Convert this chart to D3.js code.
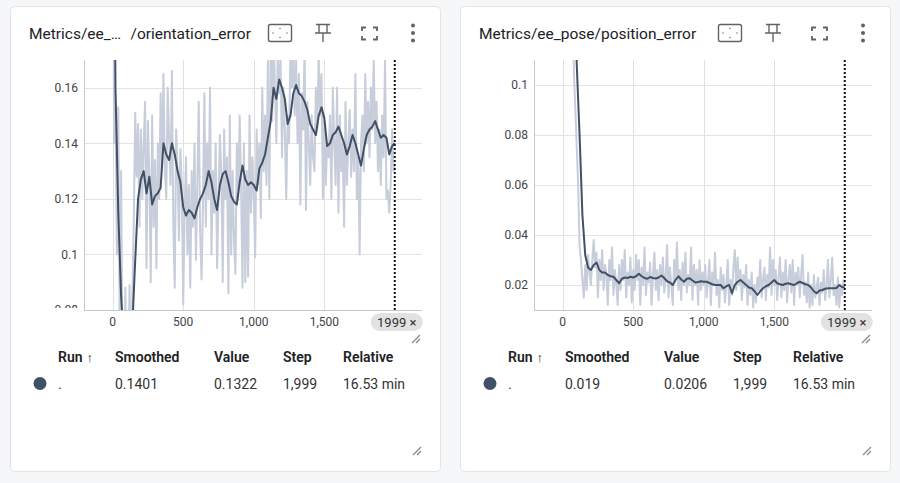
<!DOCTYPE html>
<html>
<head>
<meta charset="utf-8">
<script src="https://cdn.jsdelivr.net/npm/d3@7"></script>
<style>
  body { margin: 0; background: #f6f7f9; font-family: Roboto, "Noto Sans", sans-serif; }
  svg { display: block; }
</style>
</head>
<body>
<div id="board"></div>
<script>
// values (raw every 10 steps, smoothed every 20 steps, plus last step 1999)
var orientRaw = [
  0.30, 0.14, 0.155, 0.10, 0.153, 0.07, 0.13, 0.06, 0.05, 0.088,
  0.04, 0.06, 0.089, 0.05, 0.085, 0.113, 0.151, 0.128, 0.147, 0.11,
  0.145, 0.12, 0.14, 0.155, 0.095, 0.148, 0.128, 0.09, 0.15, 0.11,
  0.134, 0.095, 0.14, 0.12, 0.158, 0.132, 0.165, 0.13, 0.12, 0.16,
  0.142, 0.125, 0.166, 0.11, 0.088, 0.145, 0.13, 0.105, 0.138, 0.125,
  0.082, 0.115, 0.135, 0.10, 0.125, 0.088, 0.13, 0.11, 0.14, 0.098,
  0.125, 0.155, 0.108, 0.091, 0.118, 0.158, 0.11, 0.14, 0.12, 0.16,
  0.10, 0.13, 0.115, 0.14, 0.095, 0.12, 0.143, 0.13, 0.09, 0.145,
  0.12, 0.135, 0.086, 0.15, 0.10, 0.13, 0.105, 0.093, 0.14, 0.12,
  0.15, 0.125, 0.088, 0.14, 0.090, 0.13, 0.092, 0.15, 0.115, 0.135,
  0.12, 0.099, 0.145, 0.125, 0.14, 0.113, 0.16, 0.13, 0.15, 0.125,
  0.17, 0.12, 0.175, 0.148, 0.18, 0.16, 0.14, 0.175, 0.158, 0.17,
  0.135, 0.16, 0.145, 0.12, 0.15, 0.14, 0.175, 0.16, 0.178, 0.15,
  0.17, 0.14, 0.165, 0.118, 0.158, 0.145, 0.175, 0.116, 0.155, 0.14,
  0.125, 0.15, 0.135, 0.13, 0.16, 0.145, 0.172, 0.15, 0.165, 0.12,
  0.148, 0.125, 0.14, 0.135, 0.15, 0.12, 0.16, 0.14, 0.125, 0.16,
  0.115, 0.15, 0.13, 0.14, 0.11, 0.155, 0.125, 0.14, 0.152, 0.128,
  0.145, 0.13, 0.165, 0.12, 0.135, 0.10, 0.14, 0.15, 0.13, 0.165,
  0.14, 0.155, 0.135, 0.16, 0.145, 0.17, 0.14, 0.155, 0.13, 0.145,
  0.125, 0.15, 0.135, 0.17, 0.12, 0.123, 0.115, 0.125, 0.145, 0.13,
  0.1322
];
var orientSmooth = [
  0.30, 0.16, 0.115, 0.085, 0.068, 0.06, 0.062, 0.075, 0.098, 0.12,
  0.127, 0.130, 0.122, 0.128, 0.118, 0.121, 0.122, 0.124, 0.140, 0.136,
  0.134, 0.140, 0.136, 0.130, 0.126, 0.117, 0.114, 0.116, 0.115, 0.113,
  0.117, 0.120, 0.122, 0.125, 0.130, 0.126, 0.120, 0.116, 0.125, 0.129,
  0.130, 0.126, 0.121, 0.119, 0.118, 0.126, 0.132, 0.127, 0.125, 0.126,
  0.125, 0.123, 0.131, 0.133, 0.136, 0.142, 0.148, 0.160, 0.156, 0.163,
  0.160, 0.156, 0.147, 0.150, 0.158, 0.161, 0.158, 0.157, 0.155, 0.152,
  0.147, 0.145, 0.143, 0.150, 0.153, 0.149, 0.139, 0.140, 0.143, 0.144,
  0.146, 0.143, 0.140, 0.136, 0.139, 0.143, 0.140, 0.136, 0.132, 0.138,
  0.143, 0.145, 0.146, 0.148, 0.145, 0.142, 0.143, 0.142, 0.136, 0.139,
  0.1401
];
var positionRaw = [
  0.35, 0.30, 0.28, 0.25, 0.22, 0.19, 0.16, 0.13, 0.105, 0.09,
  0.075, 0.06, 0.035, 0.03, 0.022, 0.015, 0.028, 0.018, 0.032, 0.025,
  0.02, 0.03, 0.038, 0.027, 0.033, 0.015, 0.03, 0.022, 0.034, 0.018,
  0.028, 0.024, 0.012, 0.03, 0.022, 0.035, 0.016, 0.026, 0.02, 0.012,
  0.028, 0.018, 0.03, 0.022, 0.034, 0.015, 0.025, 0.02, 0.031, 0.013,
  0.026, 0.018, 0.032, 0.022, 0.03, 0.012, 0.027, 0.02, 0.035, 0.016,
  0.025, 0.021, 0.029, 0.012, 0.024, 0.033, 0.018, 0.026, 0.014, 0.028,
  0.02, 0.031, 0.017, 0.024, 0.036, 0.015, 0.027, 0.02, 0.012, 0.03,
  0.022, 0.037, 0.018, 0.026, 0.014, 0.029, 0.02, 0.033, 0.017, 0.024,
  0.02, 0.035, 0.014, 0.028, 0.02, 0.026, 0.012, 0.03, 0.018, 0.025,
  0.02, 0.028, 0.015, 0.022, 0.03, 0.012, 0.025, 0.02, 0.033, 0.016,
  0.022, 0.011, 0.027, 0.018, 0.024, 0.013, 0.02, 0.03, 0.012, 0.022,
  0.016, 0.027, 0.034, 0.018, 0.031, 0.02, 0.026, 0.014, 0.024, 0.019,
  0.028, 0.012, 0.022, 0.016, 0.025, 0.011, 0.02, 0.013, 0.023, 0.018,
  0.03, 0.015, 0.022, 0.027, 0.014, 0.024, 0.019, 0.035, 0.016, 0.03,
  0.02, 0.026, 0.014, 0.023, 0.031, 0.015, 0.025, 0.018, 0.03, 0.013,
  0.022, 0.028, 0.017, 0.03, 0.012, 0.025, 0.02, 0.027, 0.015, 0.024,
  0.032, 0.016, 0.021, 0.013, 0.025, 0.011, 0.02, 0.012, 0.024, 0.015,
  0.019, 0.023, 0.012, 0.021, 0.017, 0.026, 0.014, 0.02, 0.03, 0.015,
  0.022, 0.031, 0.016, 0.02, 0.012, 0.023, 0.011, 0.02, 0.016, 0.022,
  0.0206
];
var positionSmooth = [
  0.35, 0.30, 0.26, 0.22, 0.15, 0.108, 0.08, 0.048, 0.032, 0.027,
  0.026, 0.028, 0.029, 0.026, 0.025, 0.025, 0.024, 0.0235, 0.0233, 0.022,
  0.0207, 0.0225, 0.023, 0.0228, 0.0233, 0.023, 0.0235, 0.0245, 0.0235, 0.0228,
  0.0225, 0.0232, 0.0228, 0.0226, 0.023, 0.0238, 0.0228, 0.0215, 0.021, 0.020,
  0.022, 0.0235, 0.0222, 0.0213, 0.0225, 0.0227, 0.0218, 0.021, 0.0212, 0.0215,
  0.0213, 0.0213, 0.0208, 0.0203, 0.020, 0.020, 0.020, 0.0187, 0.0195, 0.020,
  0.0167, 0.020, 0.0213, 0.022, 0.021, 0.020, 0.019, 0.0187, 0.0175, 0.016,
  0.0175, 0.0187, 0.0195, 0.020, 0.021, 0.022, 0.0207, 0.0203, 0.020, 0.0205,
  0.0207, 0.0203, 0.020, 0.0207, 0.0213, 0.0208, 0.0203, 0.020, 0.019, 0.0175,
  0.0167, 0.0178, 0.018, 0.0185, 0.0187, 0.0187, 0.0187, 0.0188, 0.020, 0.0192,
  0.019
];

var rawSteps = d3.range(0, 2000, 10).concat([1999]);
var smoothSteps = d3.range(0, 2000, 20).concat([1999]);

var xTicks = [0, 500, 1000, 1500];
var xTickLabels = ["0", "500", "1,000", "1,500"];
var orientYTicks = [0.08, 0.1, 0.12, 0.14, 0.16];
var orientYLabels = ["0.08", "0.1", "0.12", "0.14", "0.16"];
var positionYTicks = [0.02, 0.04, 0.06, 0.08, 0.1];
var positionYLabels = ["0.02", "0.04", "0.06", "0.08", "0.1"];

var tableHeaders = ["Run", "Smoothed", "Value", "Step", "Relative"];
var orientRow = [".", "0.1401", "0.1322", "1,999", "16.53 min"];
var positionRow = [".", "0.019", "0.0206", "1,999", "16.53 min"];

var runColor = "#425066";
var rawColor = "#c7cdda";

var svg = d3.select("#board").append("svg")
  .attr("width", 900)
  .attr("height", 483);

svg.append("rect").attr("width", 900).attr("height", 483).attr("fill", "#f6f7f9");

// draw one tensorboard-like scalar card
function drawCard(ox, id, cfg) {
  var g = svg.append("g").attr("transform", "translate(" + ox + ",0)");

  g.append("rect")
    .attr("x", 0.5).attr("y", 6.5)
    .attr("width", 430).attr("height", 465)
    .attr("rx", 4)
    .attr("fill", "white")
    .attr("stroke", "#e3e4e6");

  // title
  var title = g.append("text")
    .attr("y", 38.5)
    .attr("font-size", 15.5)
    .attr("fill", "#202124");
  cfg.title.forEach(function(t) {
    title.append("tspan").attr("x", t.x).text(t.text);
  });

  // header icons
  var ic = g.append("g").attr("stroke", "#5f6368").attr("fill", "none").attr("stroke-width", 1.4);
  ic.append("rect").attr("x", 258.5).attr("y", 24.5).attr("width", 23).attr("height", 17).attr("rx", 2);
  [[270, 28.5], [270, 37.5], [263, 33], [277, 33]].forEach(function(p) {
    ic.append("circle").attr("cx", p[0]).attr("cy", p[1]).attr("r", 0.7).attr("fill", "#5f6368").attr("stroke", "none");
  });
  ic.append("path").attr("d", "M306,24.5 H320 M309,24.5 V33 M317,24.5 V33 M305,33 H321 M313,33 V42");
  ic.append("path").attr("d", "M352,31 V27.5 H356 M363,27.5 H367 V31 M352,36 V39.5 H356 M363,39.5 H367 V36")
    .attr("stroke-width", 1.8);
  [25.5, 33, 40.5].forEach(function(cy) {
    g.append("circle").attr("cx", 403).attr("cy", cy).attr("r", 2).attr("fill", "#5f6368");
  });

  // plot area
  var left = 74, right = 412, top = 60, bottom = 310;
  var x = d3.scaleLinear().domain([-203, 2192]).range([left, right]);
  var y = d3.scaleLinear().domain(cfg.yDomain).range([bottom, top]);

  g.append("defs").append("clipPath").attr("id", "clip" + id)
    .append("rect").attr("x", left).attr("y", top).attr("width", right - left).attr("height", bottom - top);
  g.append("defs").append("clipPath").attr("id", "yclip" + id)
    .append("rect").attr("x", 0).attr("y", 50).attr("width", left).attr("height", bottom - 52);

  // grid
  g.append("g").selectAll("line").data(cfg.yTicks).join("line")
    .attr("x1", left).attr("x2", right)
    .attr("y1", function(d) { return Math.round(y(d)) + 0.5; })
    .attr("y2", function(d) { return Math.round(y(d)) + 0.5; })
    .attr("stroke", "#e4e4e4");
  g.append("g").selectAll("line").data(xTicks).join("line")
    .attr("x1", function(d) { return Math.round(x(d)) + 0.5; })
    .attr("x2", function(d) { return Math.round(x(d)) + 0.5; })
    .attr("y1", top).attr("y2", bottom)
    .attr("stroke", "#e0e0e0");

  // axes lines
  g.append("line").attr("x1", left + 0.5).attr("x2", left + 0.5).attr("y1", top).attr("y2", bottom)
    .attr("stroke", "#c8c8c8");
  g.append("line").attr("x1", left).attr("x2", right).attr("y1", bottom + 0.5).attr("y2", bottom + 0.5)
    .attr("stroke", "#c8c8c8");

  // tick labels
  g.append("g").attr("clip-path", "url(#yclip" + id + ")")
    .selectAll("text").data(cfg.yTicks).join("text")
    .attr("x", left - 6)
    .attr("y", function(d) { return y(d); })
    .attr("dy", "0.35em")
    .attr("text-anchor", "end")
    .attr("font-size", 12)
    .attr("fill", "#444")
    .text(function(d, i) { return cfg.yLabels[i]; });

  g.append("g").selectAll("text").data(xTicks).join("text")
    .attr("x", function(d) { return x(d); })
    .attr("y", 326)
    .attr("text-anchor", "middle")
    .attr("font-size", 12)
    .attr("fill", "#444")
    .text(function(d, i) { return xTickLabels[i]; });

  // lines
  var plot = g.append("g").attr("clip-path", "url(#clip" + id + ")");
  var line = d3.line()
    .x(function(d) { return x(d[0]); })
    .y(function(d) { return y(d[1]); });

  plot.append("path")
    .datum(d3.zip(rawSteps, cfg.raw))
    .attr("d", line)
    .attr("fill", "none")
    .attr("stroke", rawColor)
    .attr("stroke-width", 2)
    .attr("stroke-linejoin", "round");

  plot.append("path")
    .datum(d3.zip(smoothSteps, cfg.smooth))
    .attr("d", line)
    .attr("fill", "none")
    .attr("stroke", runColor)
    .attr("stroke-width", 2)
    .attr("stroke-linejoin", "round");

  // step marker at 1999
  var xs = x(1999);
  g.append("line")
    .attr("x1", xs).attr("x2", xs).attr("y1", top).attr("y2", bottom)
    .attr("stroke", "#111").attr("stroke-width", 2).attr("stroke-dasharray", "2,2");
  g.append("rect")
    .attr("x", xs - 24).attr("y", 313).attr("width", 52).attr("height", 18).attr("rx", 9)
    .attr("fill", "#e2e2e2");
  g.append("text")
    .attr("x", xs + 2).attr("y", 326.5)
    .attr("text-anchor", "middle").attr("font-size", 13).attr("fill", "#333")
    .text("1999 \u00d7");

  // resize handles
  function handle(hx, hy) {
    g.append("path")
      .attr("d", "M" + (hx + 4) + "," + (hy - 4) + " L" + (hx - 4) + "," + (hy + 4) +
                 " M" + (hx + 4) + "," + (hy) + " L" + (hx) + "," + (hy + 4))
      .attr("stroke", "#888").attr("stroke-width", 1.2);
  }
  handle(406, 339);
  handle(407, 451);

  // table
  var colX = [48, 105, 204, 273, 333];
  var head = g.append("g").attr("font-size", 14).attr("font-weight", 600).attr("fill", "#202124");
  tableHeaders.forEach(function(h, i) {
    var t = head.append("text").attr("x", colX[i]).attr("y", 362).text(h);
    if (i === 0) t.append("tspan").attr("font-weight", 400).attr("font-size", 13).attr("dx", 4).text("\u2191");
  });
  g.append("circle").attr("cx", 30).attr("cy", 383.5).attr("r", 6.5).attr("fill", runColor);
  cfg.row.forEach(function(v, i) {
    g.append("text").attr("x", colX[i]).attr("y", 388.5)
      .attr("font-size", 14).attr("fill", "#333").text(v);
  });
}

drawCard(10, "a", {
  title: [{x: 19, text: "Metrics/ee_\u2026"}, {x: 120.5, text: "/orientation_error"}],
  yDomain: [0.08, 0.17],
  yTicks: orientYTicks,
  yLabels: orientYLabels,
  raw: orientRaw,
  smooth: orientSmooth,
  row: orientRow
});

drawCard(460, "b", {
  title: [{x: 19, text: "Metrics/ee_pose/position_error"}],
  yDomain: [0.01, 0.11],
  yTicks: positionYTicks,
  yLabels: positionYLabels,
  raw: positionRaw,
  smooth: positionSmooth,
  row: positionRow
});
</script>
</body>
</html>
